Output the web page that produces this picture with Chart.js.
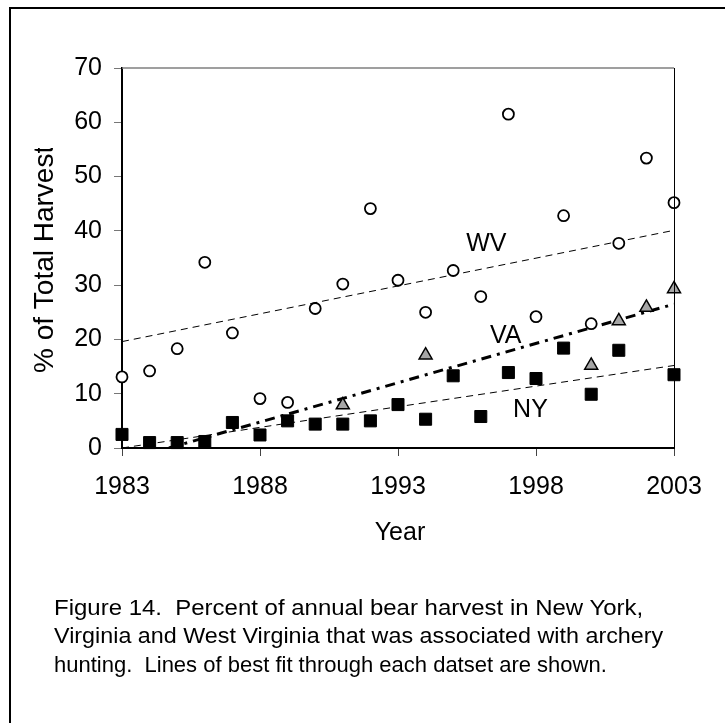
<!DOCTYPE html>
<html>
<head>
<meta charset="utf-8">
<script src="https://cdn.jsdelivr.net/npm/chart.js@4/dist/chart.umd.min.js"></script>
<style>
  html, body { margin: 0; padding: 0; background: #fff; }
  #wrap { position: relative; width: 725px; height: 723px; overflow: hidden; }
  #frame { position: absolute; left: 9px; top: 7px; width: 760px; height: 760px;
           border-left: 2px solid #000; border-top: 2px solid #000; }
  canvas { position: absolute; left: 0; top: 0; }
  #caption { position: absolute; left: 54px; top: 594px; white-space: nowrap;
             font-family: 'Liberation Sans', Arial, sans-serif; font-size: 22px;
             line-height: 28.3px; color: #000; }
  #caption div { transform-origin: 0 50%; }
</style>
</head>
<body>
<div id="wrap">
  <div id="frame"></div>
  <canvas id="chart" width="725" height="723"></canvas>
  <div id="caption">
    <div style="transform: scaleX(1.09)">Figure 14.&nbsp; Percent of annual bear harvest in New York,</div>
    <div style="transform: scaleX(1.06)">Virginia and West Virginia that was associated with archery</div>
    <div>hunting.&nbsp; Lines of best fit through each datset are shown.</div>
  </div>
</div>
<script>
// ── Data ──
const years = [1983,1984,1985,1986,1987,1988,1989,1990,1991,1992,1993,1994,1995,1996,1997,1998,1999,2000,2001,2002,2003];
const wvValues = [13.1,14.2,18.3,34.2,21.2,9.1,8.4,25.7,30.2,44.1,30.9,25.0,32.7,27.9,61.5,24.2,42.8,22.9,37.7,53.4,45.2];
const vaValues = [null,null,null,null,null,null,null,null,7.9,null,null,17.1,null,null,null,null,null,15.2,23.4,25.9,29.3];
const nyValues = [2.5,1.0,1.0,1.2,4.7,2.4,5.0,4.4,4.4,5.0,8.0,5.3,13.3,5.8,13.9,12.8,18.4,9.9,18.0,null,13.5];

// best-fit lines (end points as drawn)
const wvFitX = [1983, 2003], wvFitY = [19.6, 40.1];
const vaFitX = [1984.7, 2003], vaFitY = [0, 26.5];
const nyFitX = [1983, 2003], nyFitY = [0, 15.2];

const yTicks = [0,10,20,30,40,50,60,70];
const xTicks = [1983,1988,1993,1998,2003];

// series labels placed in data units
const seriesLabels = [
    { text: 'WV', x: 1996.2, y: 37.5 },
    { text: 'VA', x: 1996.9, y: 20.6 },
    { text: 'NY', x: 1997.8, y: 7.0 }
];

const FONT = "'Liberation Sans', Arial, sans-serif";
const toXY = (xs, ys) => xs.map((x, i) => ({ x, y: ys[i] })).filter(p => p.y !== null);

// ── Extra drawing: plot border, series labels, axis titles ──
const decorPlugin = {
    id: 'decor',
    afterDraw(chart) {
        const { ctx, chartArea: a, scales } = chart;
        ctx.save();
        // top (grey) and right (black) edges of plot area
        ctx.strokeStyle = '#7f7f7f'; ctx.lineWidth = 1.5;
        ctx.beginPath(); ctx.moveTo(a.left, a.top); ctx.lineTo(a.right, a.top); ctx.stroke();
        ctx.strokeStyle = '#000'; ctx.lineWidth = 1;
        ctx.beginPath(); ctx.moveTo(a.right + 0.5, a.top); ctx.lineTo(a.right + 0.5, a.bottom); ctx.stroke();

        ctx.fillStyle = '#000';
        ctx.font = `25px ${FONT}`;
        ctx.textAlign = 'center'; ctx.textBaseline = 'middle';
        seriesLabels.forEach(l => {
            ctx.fillText(l.text, scales.x.getPixelForValue(l.x), scales.y.getPixelForValue(l.y));
        });

        // x title
        ctx.font = `25px ${FONT}`;
        ctx.fillText('Year', 400, 533);

        // y title (clipped at top like the original)
        ctx.beginPath(); ctx.rect(0, 148, 100, 400); ctx.clip();
        ctx.translate(45, 373);
        ctx.rotate(-Math.PI / 2);
        ctx.textAlign = 'left';
        ctx.font = `28px ${FONT}`;
        ctx.fillText('% of Total Harvest', 0, 0);
        ctx.restore();
    }
};

const ctx = document.getElementById('chart').getContext('2d');
new Chart(ctx, {
    type: 'scatter',
    data: {
        datasets: [
            { label: 'WV', data: toXY(years, wvValues), pointStyle: 'circle', pointRadius: 5.5, clip: false,
              pointBackgroundColor: '#fff', pointBorderColor: '#000', pointBorderWidth: 1.8, showLine: false, order: 1 },
            { label: 'VA', data: toXY(years, vaValues), pointStyle: 'triangle', pointRadius: 7.5, clip: false,
              pointBackgroundColor: '#a6a6a6', pointBorderColor: '#000', pointBorderWidth: 1.5, showLine: false, order: 0 },
            { label: 'NY', data: toXY(years, nyValues), pointStyle: 'rect', pointRadius: 8.5, clip: false,
              pointBackgroundColor: '#000', pointBorderColor: '#000', pointBorderWidth: 1, showLine: false, order: 2 },
            { label: 'WV fit', data: toXY(wvFitX, wvFitY), showLine: true, pointRadius: 0,
              borderColor: '#000', borderWidth: 1, borderDash: [7, 5], order: 5 },
            { label: 'VA fit', data: toXY(vaFitX, vaFitY), showLine: true, pointRadius: 0,
              borderColor: '#000', borderWidth: 3, borderDash: [10, 6, 3, 6], order: 3 },
            { label: 'NY fit', data: toXY(nyFitX, nyFitY), showLine: true, pointRadius: 0,
              borderColor: '#000', borderWidth: 1, borderDash: [7, 5], order: 4 }
        ]
    },
    options: {
        responsive: false,
        animation: false,
        layout: { padding: { left: 0, top: 68, right: 51, bottom: 215 } },
        plugins: { legend: { display: false }, tooltip: { enabled: false } },
        scales: {
            x: {
                type: 'linear', min: 1983, max: 2003,
                afterFit: s => { s.height = 60; },
                afterBuildTicks: s => { s.ticks = xTicks.map(v => ({ value: v })); },
                border: { display: true, color: '#000', width: 2 },
                grid: { display: true, drawOnChartArea: false, drawTicks: true, tickLength: 8, color: '#444', lineWidth: 1 },
                ticks: { font: { family: FONT, size: 25 }, color: '#000', padding: 16, maxRotation: 0, autoSkip: false,
                         callback: v => String(v) }
            },
            y: {
                type: 'linear', min: 0, max: 70,
                afterFit: s => { s.width = 122; },
                afterBuildTicks: s => { s.ticks = yTicks.map(v => ({ value: v })); },
                border: { display: true, color: '#000', width: 2 },
                grid: { display: true, drawOnChartArea: false, drawTicks: true, tickLength: 8, color: '#777', lineWidth: 1 },
                ticks: { font: { family: FONT, size: 25 }, color: '#000', padding: 12, autoSkip: false }
            }
        }
    },
    plugins: [decorPlugin]
});
</script>
</body>
</html>
